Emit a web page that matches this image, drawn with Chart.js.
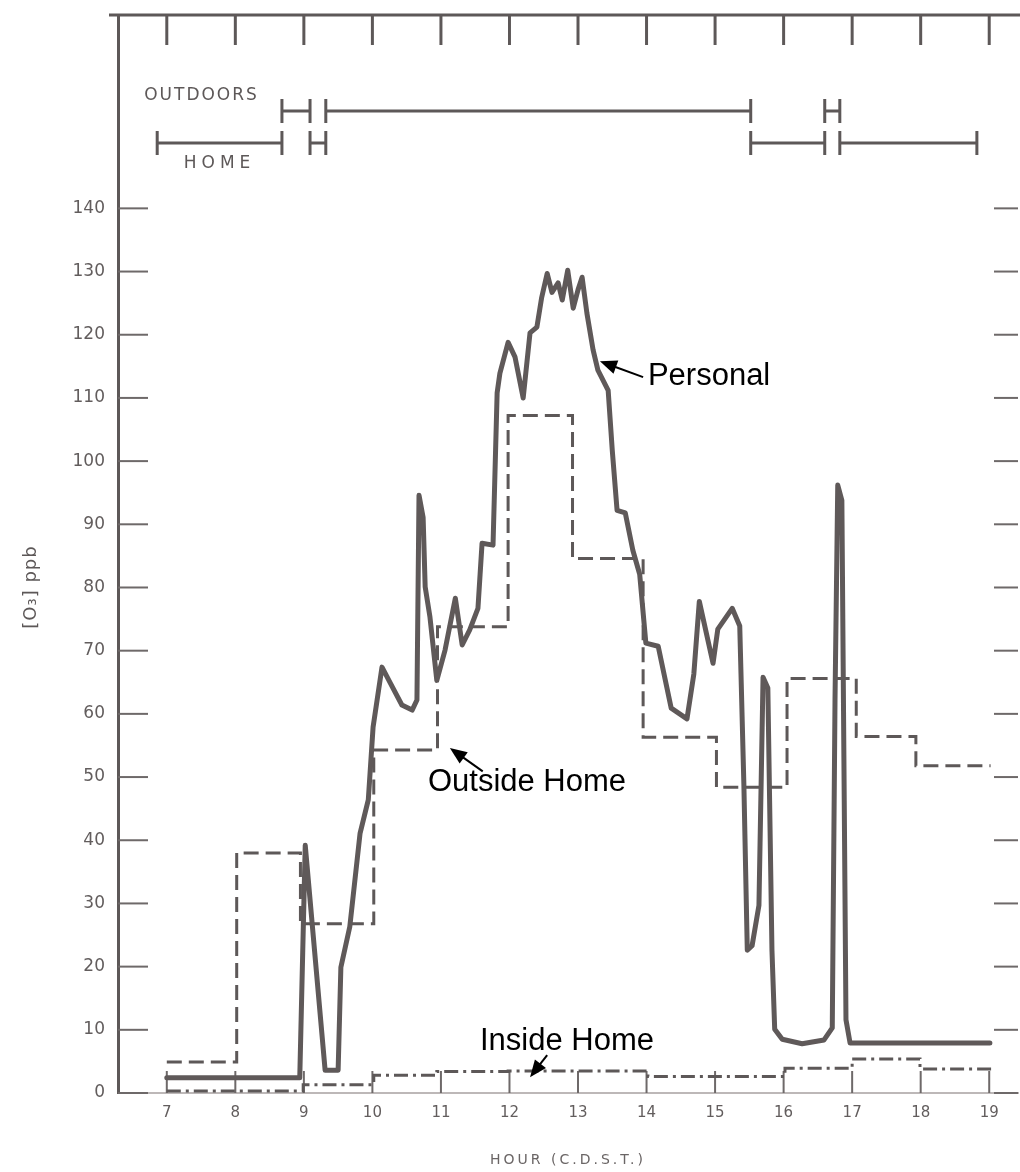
<!DOCTYPE html>
<html>
<head>
<meta charset="utf-8">
<title>Personal ozone exposure</title>
<script src="https://cdn.jsdelivr.net/npm/chart.js@4.4.0/dist/chart.umd.min.js"></script>
<style>
  html, body { margin: 0; padding: 0; background: #fff; }
  #wrap { width: 1020px; height: 1172px; }
</style>
</head>
<body>
<div id="wrap"><canvas id="chart" width="1020" height="1172"></canvas></div>
<script>
// axis ticks
const hourTicks = [7, 8, 9, 10, 11, 12, 13, 14, 15, 16, 17, 18, 19];
const ppbTicks = [0, 10, 20, 30, 40, 50, 60, 70, 80, 90, 100, 110, 120, 130, 140];

// personal monitor trace (hour, ppb)
const personalHours = [7.00, 8.94, 9.02, 9.31, 9.50, 9.54, 9.67, 9.82, 9.94, 10.01,
  10.14, 10.26, 10.43, 10.58, 10.65, 10.68, 10.74, 10.77, 10.84, 10.94,
  11.06, 11.21, 11.31, 11.42, 11.54, 11.60, 11.76, 11.82, 11.86, 11.98,
  12.08, 12.20, 12.30, 12.40, 12.47, 12.55, 12.62, 12.71, 12.77, 12.85,
  12.93, 13.00, 13.06, 13.13, 13.22, 13.29, 13.44, 13.50, 13.57, 13.69,
  13.80, 13.90, 13.99, 14.17, 14.36, 14.59, 14.69, 14.77, 14.97, 15.04,
  15.25, 15.36, 15.42, 15.47, 15.54, 15.64, 15.70, 15.77, 15.83, 15.87,
  15.98, 16.27, 16.59, 16.71, 16.75, 16.79, 16.85, 16.91, 16.97, 19.01];
const personalPpb = [2.4, 2.4, 39.2, 3.6, 3.6, 19.9, 26.3, 41.1, 46.4, 57.9,
  67.4, 64.9, 61.4, 60.6, 62.2, 94.6, 91.1, 80.1, 75.3, 65.3,
  70.1, 78.3, 70.9, 73.3, 76.7, 87.0, 86.7, 110.8, 113.9, 118.8,
  116.5, 110.0, 120.3, 121.2, 125.9, 129.7, 126.7, 128.2, 125.5, 130.2,
  124.2, 127.1, 129.1, 123.4, 117.6, 114.4, 111.2, 101.7, 92.2, 91.8,
  85.9, 82.1, 71.2, 70.7, 60.9, 59.2, 66.3, 77.8, 68.0, 73.4,
  76.7, 73.9, 48.9, 22.6, 23.3, 29.7, 65.8, 64.1, 22.6, 10.1,
  8.5, 7.8, 8.4, 10.3, 62.2, 96.2, 93.8, 11.6, 7.9, 7.9];

// hourly averages (start of each step; last point closes the final step)
const outsideHours = [7.00, 8.02, 8.95, 10.02, 10.95, 11.98, 12.92, 13.95, 15.02, 16.05, 17.06, 17.93, 19.02];
const outsidePpb = [4.9, 38.0, 26.8, 54.3, 73.8, 107.2, 84.6, 56.3, 48.4, 65.6, 56.4, 51.8, 51.8];

const insideHours = [7.00, 8.99, 10.02, 10.94, 11.98, 12.92, 14.02, 15.01, 16.02, 17.00, 17.99, 19.10];
const insidePpb = [0.3, 1.3, 2.8, 3.4, 3.5, 3.5, 2.6, 2.6, 3.9, 5.4, 3.8, 3.8];

// activity diary (start hour, end hour)
const homePeriods = [[6.86, 8.68], [9.09, 9.32], [15.52, 16.60], [16.82, 18.82]];
const outdoorPeriods = [[8.68, 9.09], [9.32, 15.52], [16.60, 16.82]];

// callouts
const noteLabels = ['Personal', 'Outside Home', 'Inside Home'];
const noteTextAt = [[14.02, 113.4], [10.81, 49.2], [11.57, 8.2]];
const noteArrowFrom = [[13.95, 113.3], [11.61, 50.9], [12.55, 6.0]];
const noteArrowTo = [[13.32, 115.8], [11.13, 54.6], [12.30, 2.5]];

const ink = '#5d5858';
const pts = (xs, ys) => xs.map((h, i) => ({ x: h, y: ys[i] }));

function drawPeriods(ctx, x, periods, rowY) {
  periods.forEach(p => {
    const x1 = x.getPixelForValue(p[0]);
    const x2 = x.getPixelForValue(p[1]);
    ctx.beginPath();
    ctx.moveTo(x1, rowY); ctx.lineTo(x2, rowY);
    ctx.moveTo(x1, rowY - 12); ctx.lineTo(x1, rowY + 12);
    ctx.moveTo(x2, rowY - 12); ctx.lineTo(x2, rowY + 12);
    ctx.stroke();
  });
}

function drawArrow(ctx, fx, fy, tx, ty) {
  const ang = Math.atan2(ty - fy, tx - fx);
  const len = 17, half = 7;
  ctx.beginPath();
  ctx.moveTo(fx, fy);
  ctx.lineTo(tx - Math.cos(ang) * len * 0.8, ty - Math.sin(ang) * len * 0.8);
  ctx.stroke();
  ctx.beginPath();
  ctx.moveTo(tx, ty);
  ctx.lineTo(tx - Math.cos(ang) * len - Math.sin(ang) * half, ty - Math.sin(ang) * len + Math.cos(ang) * half);
  ctx.lineTo(tx - Math.cos(ang) * len + Math.sin(ang) * half, ty - Math.sin(ang) * len - Math.cos(ang) * half);
  ctx.closePath();
  ctx.fill();
}

const paperPlugin = {
  id: 'paper',
  beforeDatasetsDraw(chart) {
    const { ctx, chartArea: a, scales: { x, y } } = chart;
    ctx.save();
    ctx.strokeStyle = ink;
    ctx.lineWidth = 3;

    // top frame with hour ticks
    ctx.beginPath();
    ctx.moveTo(a.left - 9, a.top);
    ctx.lineTo(a.right + 2, a.top);
    ctx.stroke();
    hourTicks.forEach(h => {
      const px = x.getPixelForValue(h);
      ctx.beginPath(); ctx.moveTo(px, a.top); ctx.lineTo(px, a.top + 30); ctx.stroke();
    });

    // inward ticks on left and right edges
    ctx.lineWidth = 2;
    ctx.strokeStyle = '#6e6969';
    ppbTicks.forEach(v => {
      const py = y.getPixelForValue(v);
      ctx.beginPath(); ctx.moveTo(a.left, py); ctx.lineTo(a.left + 30, py); ctx.stroke();
      ctx.beginPath(); ctx.moveTo(a.right - 24, py); ctx.lineTo(a.right, py); ctx.stroke();
    });

    // inward hour ticks on the baseline
    const y0 = y.getPixelForValue(0);
    hourTicks.forEach(h => {
      const px = x.getPixelForValue(h);
      ctx.beginPath(); ctx.moveTo(px, y0); ctx.lineTo(px, y0 - 22); ctx.stroke();
    });

    // activity diary bars
    ctx.strokeStyle = ink;
    ctx.lineWidth = 3;
    drawPeriods(ctx, x, outdoorPeriods, a.top + 96);
    drawPeriods(ctx, x, homePeriods, a.top + 128);

    ctx.fillStyle = ink;
    ctx.font = '17px "DejaVu Sans", sans-serif';
    ctx.textBaseline = 'middle';
    ctx.letterSpacing = '2px';
    ctx.textAlign = 'left';
    ctx.fillText('OUTDOORS', x.getPixelForValue(6.67), a.top + 81);
    ctx.letterSpacing = '5px';
    ctx.textAlign = 'center';
    const hx = (x.getPixelForValue(homePeriods[0][0]) + x.getPixelForValue(homePeriods[0][1])) / 2;
    ctx.fillText('HOME', hx, a.top + 149);
    ctx.restore();
  },
  afterDraw(chart) {
    const { ctx, chartArea: a, scales: { x, y } } = chart;
    ctx.save();

    // axis titles
    ctx.fillStyle = '#6a6565';
    ctx.font = '14px "DejaVu Sans", sans-serif';
    ctx.textAlign = 'center';
    ctx.textBaseline = 'middle';
    ctx.letterSpacing = '3px';
    ctx.fillText('HOUR (C.D.S.T.)', (a.left + a.right) / 2, 1160);
    ctx.letterSpacing = '1px';
    ctx.translate(31, 587);
    ctx.rotate(-Math.PI / 2);
    ctx.font = '18px "DejaVu Sans", sans-serif';
    ctx.fillStyle = '#5d5858';
    ctx.fillText('[O\u2083] ppb', 0, 0);
    ctx.setTransform(1, 0, 0, 1, 0, 0);
    ctx.letterSpacing = '0px';

    // callouts
    ctx.fillStyle = '#000';
    ctx.strokeStyle = '#000';
    ctx.lineWidth = 2;
    ctx.font = '31px "Liberation Sans", Arial, sans-serif';
    ctx.textAlign = 'left';
    noteLabels.forEach((t, i) => {
      ctx.fillText(t, x.getPixelForValue(noteTextAt[i][0]), y.getPixelForValue(noteTextAt[i][1]));
      drawArrow(ctx,
        x.getPixelForValue(noteArrowFrom[i][0]), y.getPixelForValue(noteArrowFrom[i][1]),
        x.getPixelForValue(noteArrowTo[i][0]), y.getPixelForValue(noteArrowTo[i][1]));
    });
    ctx.restore();
  }
};

new Chart(document.getElementById('chart'), {
  type: 'scatter',
  data: {
    datasets: [
      {
        label: 'Personal',
        data: pts(personalHours, personalPpb),
        showLine: true,
        borderColor: '#5f5959',
        borderWidth: 5,
        borderJoinStyle: 'round',
        borderCapStyle: 'round',
        pointRadius: 0,
        tension: 0,
        clip: false
      },
      {
        label: 'Outside Home',
        data: pts(outsideHours, outsidePpb),
        showLine: true,
        stepped: true,
        borderColor: ink,
        borderWidth: 3,
        borderDash: [15, 7],
        pointRadius: 0,
        clip: false
      },
      {
        label: 'Inside Home',
        data: pts(insideHours, insidePpb),
        showLine: true,
        stepped: true,
        borderColor: ink,
        borderWidth: 3,
        borderDash: [14, 5, 3, 5],
        pointRadius: 0,
        clip: false
      }
    ]
  },
  options: {
    responsive: false,
    animation: false,
    devicePixelRatio: 1,
    layout: { padding: { top: 15, right: 2, left: 0, bottom: 0 } },
    plugins: {
      legend: { display: false },
      tooltip: { enabled: false }
    },
    scales: {
      x: {
        type: 'linear',
        min: 6.288,
        max: 19.42,
        afterBuildTicks: s => { s.ticks = hourTicks.map(v => ({ value: v })); },
        afterFit: s => { s.height = 79; s.paddingLeft = 0; s.paddingRight = 0; },
        grid: { display: false, drawTicks: false },
        border: { display: true, color: '#bdb8b8', width: 2 },
        ticks: {
          autoSkip: false,
          maxRotation: 0,
          padding: 11,
          color: '#625d5d',
          font: { family: 'DejaVu Sans', size: 15 }
        }
      },
      y: {
        min: 0,
        max: 170.6,
        afterBuildTicks: s => { s.ticks = ppbTicks.map(v => ({ value: v })); },
        afterFit: s => { s.width = 118; s.paddingTop = 0; s.paddingBottom = 0; },
        grid: { display: false, drawTicks: false },
        border: { display: true, color: ink, width: 3 },
        ticks: {
          padding: 13,
          color: '#625d5d',
          font: { family: 'DejaVu Sans', size: 17 }
        }
      }
    }
  },
  plugins: [paperPlugin]
});
</script>
</body>
</html>
